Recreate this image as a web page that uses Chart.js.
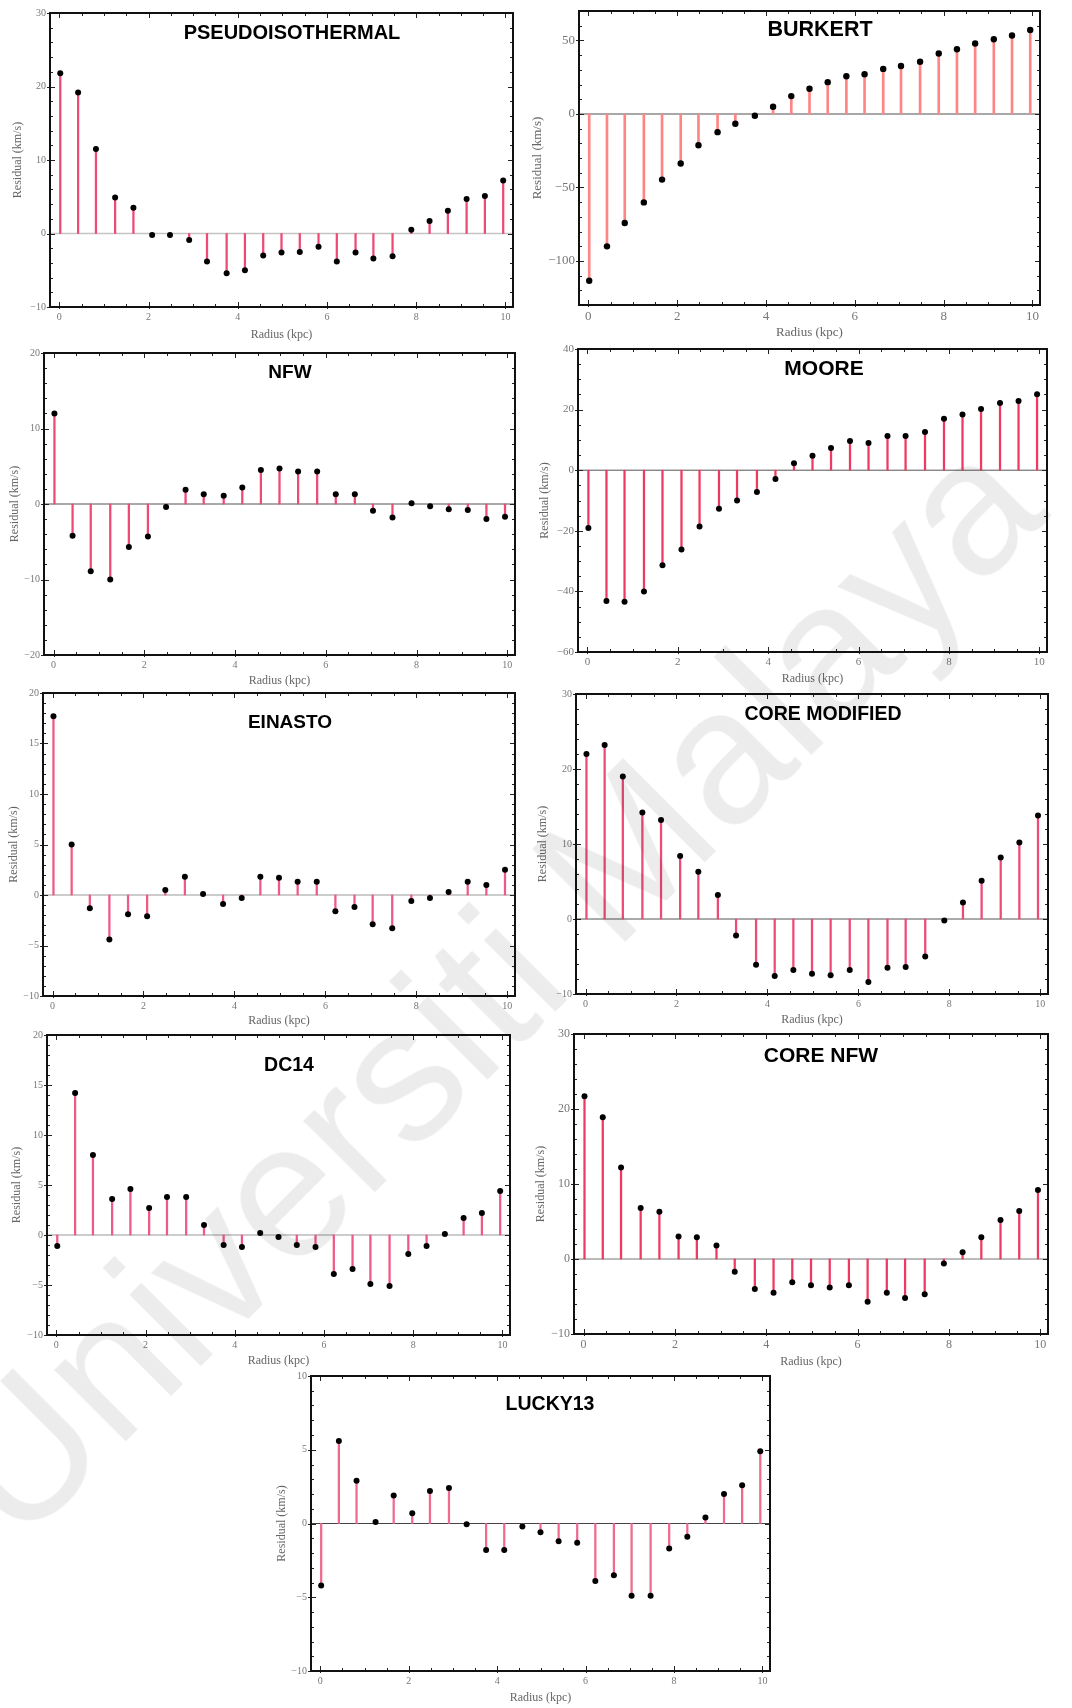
<!DOCTYPE html>
<html>
<head>
<meta charset="utf-8">
<title>Rotation curve residuals by halo model</title>
<script src="https://cdn.jsdelivr.net/npm/chart.js@4.4.0/dist/chart.umd.min.js"></script>
<style>
  html, body { margin: 0; padding: 0; background: #fff; }
  #page { position: relative; width: 1072px; height: 1708px; overflow: hidden; background: #fff; }
  canvas.panel { position: absolute; }
  .wm {
    position: absolute; left: 488px; top: 985px;
    transform: translate(-50%, -50%) rotate(-45deg);
    font: 192px "Liberation Sans", Arial, sans-serif;
    color: rgba(0, 0, 0, 0.075);
    white-space: nowrap; pointer-events: none; z-index: 5;
  }
</style>
</head>
<body>
<div id="page">
  <div class="wm">Universiti Malaya</div>
</div>
<script>
// Radius of each sampled point (kpc), shared by every model
const radiusKpc = [0.02, 0.42, 0.82, 1.25, 1.66, 2.08, 2.48, 2.91, 3.31, 3.75, 4.16, 4.57, 4.98,
                   5.39, 5.81, 6.22, 6.64, 7.04, 7.47, 7.89, 8.30, 8.71, 9.13, 9.54, 9.95];

// Velocity residuals (km/s) for each dark-matter halo model
const pseudoIsothermal = [21.8, 19.2, 11.5, 4.9, 3.5, -0.2, -0.2, -0.9, -3.8, -5.4, -5.0, -3.0, -2.6,
                          -2.5, -1.8, -3.8, -2.6, -3.4, -3.1, 0.5, 1.7, 3.1, 4.7, 5.1, 7.2];
const burkert = [-113.5, -90.1, -74.2, -60.2, -44.7, -33.7, -21.3, -12.4, -6.7, -1.3, 4.9, 12.1, 17.1,
                 21.6, 25.6, 27.0, 30.6, 32.6, 35.5, 41.1, 44.0, 47.9, 50.8, 53.3, 57.1];
const nfw = [12.0, -4.2, -8.9, -10.0, -5.7, -4.3, -0.4, 1.9, 1.3, 1.1, 2.2, 4.5, 4.7,
             4.3, 4.3, 1.3, 1.3, -0.9, -1.8, 0.1, -0.3, -0.7, -0.8, -2.0, -1.7];
const moore = [-19.1, -43.2, -43.4, -40.0, -31.4, -26.2, -18.6, -12.7, -10.0, -7.2, -2.9, 2.3, 4.8,
               7.3, 9.6, 9.0, 11.3, 11.3, 12.6, 17.0, 18.4, 20.2, 22.2, 22.8, 25.1];
const einasto = [17.7, 5.0, -1.3, -4.4, -1.9, -2.1, 0.5, 1.8, 0.1, -0.9, -0.3, 1.8, 1.7,
                 1.3, 1.3, -1.6, -1.2, -2.9, -3.3, -0.6, -0.3, 0.3, 1.3, 1.0, 2.5];
const coreModified = [22.0, 23.2, 19.0, 14.2, 13.2, 8.4, 6.3, 3.2, -2.2, -6.1, -7.6, -6.8, -7.3,
                      -7.5, -6.8, -8.4, -6.5, -6.4, -5.0, -0.2, 2.2, 5.1, 8.2, 10.2, 13.8];
const dc14 = [-1.1, 14.2, 8.0, 3.6, 4.6, 2.7, 3.8, 3.8, 1.0, -1.0, -1.2, 0.2, -0.2,
              -1.0, -1.2, -3.9, -3.4, -4.9, -5.1, -1.9, -1.1, 0.1, 1.7, 2.2, 4.4];
const coreNfw = [21.7, 18.9, 12.2, 6.8, 6.3, 3.0, 2.9, 1.8, -1.7, -4.0, -4.5, -3.1, -3.5,
                 -3.8, -3.5, -5.7, -4.5, -5.2, -4.7, -0.6, 0.9, 2.9, 5.2, 6.4, 9.2];
const lucky13 = [-4.2, 5.6, 2.9, 0.1, 1.9, 0.7, 2.2, 2.4, -0.05, -1.8, -1.8, -0.2, -0.6,
                 -1.2, -1.3, -3.9, -3.5, -4.9, -4.9, -1.7, -0.9, 0.4, 2.0, 2.6, 4.9];

// Panel titles and y-axis ranges [min, max, major step, minor step]
const modelNames = ['PSEUDOISOTHERMAL', 'BURKERT', 'NFW', 'MOORE', 'EINASTO',
                    'CORE MODIFIED', 'DC14', 'CORE NFW', 'LUCKY13'];
const modelSeries = [pseudoIsothermal, burkert, nfw, moore, einasto, coreModified, dc14, coreNfw, lucky13];
const yRanges = [[-10, 30, 10, 2], [-130, 70, 50, 10], [-20, 20, 10, 2], [-60, 40, 20, 5],
                 [-10, 20, 5, 1], [-10, 30, 10, 2], [-10, 20, 5, 1], [-10, 30, 10, 2], [-10, 10, 5, 1]];
const xTickValues = [0, 2, 4, 6, 8, 10];
const xLabel = 'Radius (kpc)';
const yLabel = 'Residual (km/s)';

// Plot frame boxes on the page [left, top, right, bottom] and per-panel styling
const panelStyle = [
  { frame: [50, 13, 513, 307],    tick: 10, axisFont: 12, yTitleGap: 32, xTitleGap: 28, title: [242, 20, 20],   stem: '#ee4a78', stemW: 1.6, zero: '#c4c4c4', zeroW: 1.5 },
  { frame: [579, 11, 1040, 305],  tick: 13, axisFont: 13, yTitleGap: 41, xTitleGap: 28, title: [241, 19, 21.5], stem: '#ff8585', stemW: 2,   zero: '#a8a8a8', zeroW: 2 },
  { frame: [44, 353, 515, 655],   tick: 10, axisFont: 12, yTitleGap: 29, xTitleGap: 26, title: [246, 20, 19],   stem: '#ee4a78', stemW: 1.6, zero: '#555555', zeroW: 1 },
  { frame: [578, 349, 1047, 652], tick: 11, axisFont: 12, yTitleGap: 33, xTitleGap: 27, title: [246, 20, 21],   stem: '#ee3a62', stemW: 1.6, zero: '#555555', zeroW: 1 },
  { frame: [43, 693, 515, 996],   tick: 10, axisFont: 12, yTitleGap: 29, xTitleGap: 25, title: [247, 30, 19],   stem: '#ee5a85', stemW: 1.6, zero: '#bbbbbb', zeroW: 1.5 },
  { frame: [576, 694, 1048, 994], tick: 10, axisFont: 12, yTitleGap: 33, xTitleGap: 26, title: [247, 21, 19.5], stem: '#ee4a78', stemW: 1.6, zero: '#555555', zeroW: 1 },
  { frame: [47, 1035, 510, 1335], tick: 10, axisFont: 12, yTitleGap: 30, xTitleGap: 26, title: [242, 31, 19.5], stem: '#ee5a85', stemW: 1.6, zero: '#bbbbbb', zeroW: 1.5 },
  { frame: [574, 1034, 1048, 1334], tick: 12, axisFont: 12, yTitleGap: 33, xTitleGap: 28, title: [247, 22, 21], stem: '#ee3a62', stemW: 1.6, zero: '#777777', zeroW: 1 },
  { frame: [311, 1376, 770, 1671], tick: 10, axisFont: 12, yTitleGap: 29, xTitleGap: 27, title: [239, 29, 19.5], stem: '#f06a90', stemW: 1.6, zero: '#444444', zeroW: 1 }
];

const PAD_L = 60, PAD_T = 12, PAD_R = 12, PAD_B = 42;
const X_MIN = -0.21, X_MAX = 10.17;

const fmt = v => (v < 0 ? '\u2212' + Math.abs(v) : String(v));

// Major tick values: every multiple of the step inside [min, max]
function majorTicks(min, max, step) {
  const out = [];
  for (let k = Math.ceil(min / step - 1e-9); k <= Math.floor(max / step + 1e-9); k++) out.push({ value: k * step });
  return out;
}

// Zero line beneath the stems; Mathematica-style frame with inward ticks and a bold title on top
const frameTicks = {
  id: 'frameTicks',
  beforeDatasetsDraw(chart, args, o) {
    const { ctx, chartArea: a, scales: { y } } = chart;
    const y0 = y.getPixelForValue(0);
    ctx.save();
    ctx.strokeStyle = o.zero; ctx.lineWidth = o.zeroW;
    ctx.beginPath(); ctx.moveTo(a.left, y0); ctx.lineTo(a.right, y0); ctx.stroke();
    ctx.restore();
  },
  afterDatasetsDraw(chart, args, o) {
    const { ctx, chartArea: a, scales: { x, y } } = chart;
    ctx.save();
    ctx.strokeStyle = '#222'; ctx.lineWidth = 1;
    ctx.beginPath();
    for (let k = 0; k <= 20; k++) {
      const px = Math.round(x.getPixelForValue(k * 0.5)) + 0.5;
      const major = k % 4 === 0;
      const len = major ? 5 : 3;
      ctx.moveTo(px, a.bottom + (major ? 2 : 0)); ctx.lineTo(px, a.bottom - len);
      ctx.moveTo(px, a.top); ctx.lineTo(px, a.top + len);
    }
    const [ymin, ymax, ystep, yminor] = o.yr;
    const per = Math.round(ystep / yminor);
    for (let k = Math.ceil(ymin / yminor); k <= Math.floor(ymax / yminor); k++) {
      const py = Math.round(y.getPixelForValue(k * yminor)) + 0.5;
      const major = k % per === 0;
      const len = major ? 5 : 3;
      ctx.moveTo(a.left - (major ? 3 : 0), py); ctx.lineTo(a.left + len, py);
      ctx.moveTo(a.right, py); ctx.lineTo(a.right - len, py);
    }
    ctx.stroke();
    ctx.strokeStyle = '#111'; ctx.lineWidth = 2;
    ctx.strokeRect(a.left, a.top, a.right - a.left, a.bottom - a.top);
    ctx.fillStyle = '#000';
    ctx.font = 'bold ' + o.title[2] + 'px "Liberation Sans", Arial, sans-serif';
    ctx.textAlign = 'center'; ctx.textBaseline = 'middle';
    ctx.fillText(o.name, a.left + o.title[0], a.top + o.title[1]);
    ctx.restore();
  }
};

const page = document.getElementById('page');

modelNames.forEach((name, i) => {
  const st = panelStyle[i];
  const yr = yRanges[i];
  const [l, t, r, b] = st.frame;
  const cv = document.createElement('canvas');
  cv.className = 'panel';
  cv.width = (r - l) + PAD_L + PAD_R;
  cv.height = (b - t) + PAD_T + PAD_B;
  cv.style.left = (l - PAD_L) + 'px';
  cv.style.top = (t - PAD_T) + 'px';
  page.appendChild(cv);

  const pts = radiusKpc.map((rk, j) => ({ x: rk, y: modelSeries[i][j] }));
  const tickFont = { family: '"Liberation Serif", "Times New Roman", serif', size: st.tick };
  const titleFont = { family: '"Liberation Serif", "Times New Roman", serif', size: st.axisFont };
  const halfLine = st.axisFont * 1.2 / 2;

  new Chart(cv, {
    type: 'bar',
    data: {
      datasets: [
        { type: 'scatter', data: pts, order: 0, pointRadius: i === 1 ? 3.2 : 3,
          pointBackgroundColor: '#000', pointBorderWidth: 0, borderColor: '#000', backgroundColor: '#000' },
        { type: 'bar', data: pts, order: 1, backgroundColor: st.stem, barThickness: st.stemW,
          borderWidth: 0, grouped: false }
      ]
    },
    options: {
      responsive: false, animation: false, devicePixelRatio: 1,
      layout: { padding: { top: PAD_T, right: PAD_R, left: 0, bottom: 0 } },
      plugins: {
        legend: { display: false }, tooltip: { enabled: false },
        frameTicks: { name, yr, title: st.title, zero: st.zero, zeroW: st.zeroW }
      },
      scales: {
        x: {
          type: 'linear', min: X_MIN, max: X_MAX, offset: false,
          grid: { display: false, drawTicks: false }, border: { display: false },
          ticks: { padding: 4, color: '#777', font: tickFont,
                   maxRotation: 0, autoSkip: false, callback: v => fmt(v) },
          afterBuildTicks(s) { s.ticks = xTickValues.map(v => ({ value: v })); },
          title: { display: true, text: xLabel, color: '#666', font: titleFont,
                   padding: { top: 0, bottom: PAD_B - st.xTitleGap - halfLine } },
          afterFit(s) { s.height = PAD_B; s.paddingLeft = 0; s.paddingRight = 0; }
        },
        y: {
          type: 'linear', min: yr[0], max: yr[1],
          grid: { display: false, drawTicks: false }, border: { display: false },
          ticks: { padding: 4, color: '#777', font: tickFont,
                   autoSkip: false, callback: v => fmt(v) },
          afterBuildTicks(s) { s.ticks = majorTicks(yr[0], yr[1], yr[2]); },
          title: { display: true, text: yLabel, color: '#666', font: titleFont,
                   padding: { top: PAD_L - st.yTitleGap - halfLine, bottom: 0 } },
          afterFit(s) { s.width = PAD_L; s.paddingTop = 0; s.paddingBottom = 0; }
        }
      }
    },
    plugins: [frameTicks]
  });
});
</script>
</body>
</html>
